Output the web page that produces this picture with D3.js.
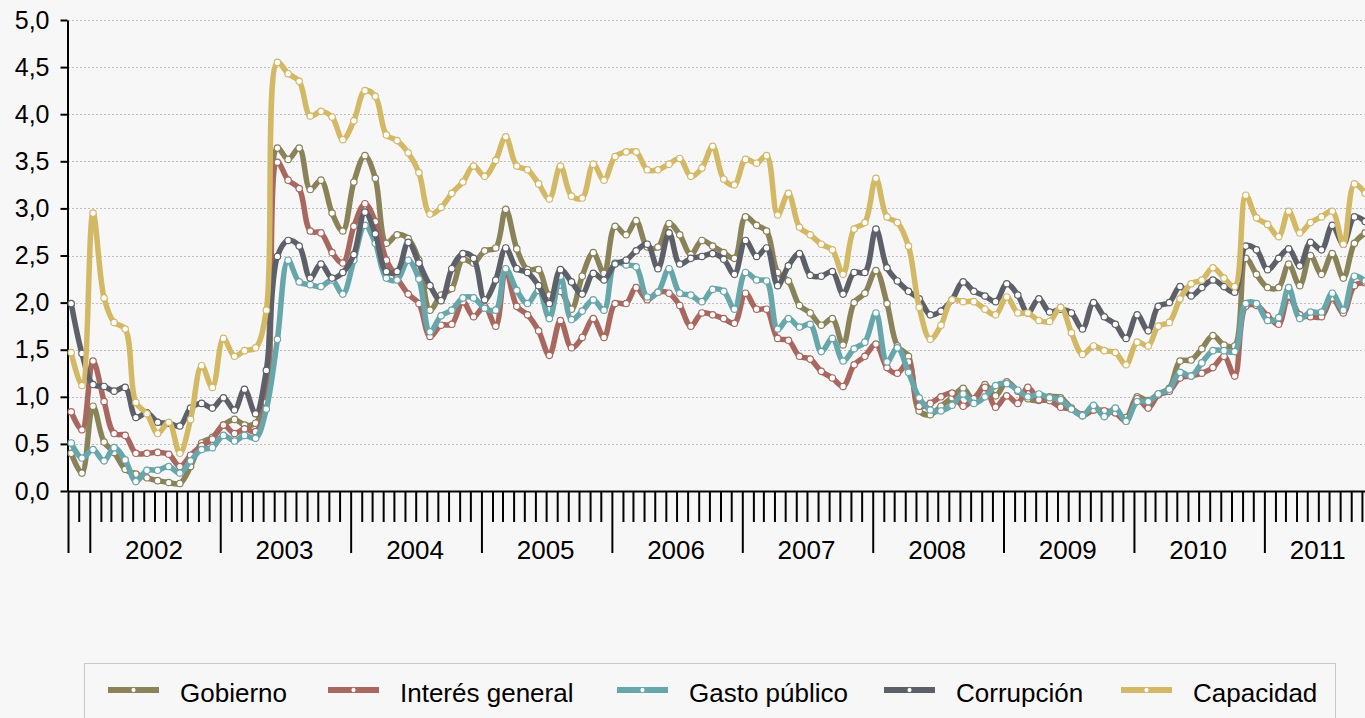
<!DOCTYPE html>
<html>
<head>
<meta charset="utf-8">
<script src="https://cdn.jsdelivr.net/npm/d3@7"></script>
<style>
body { margin: 0; background: #f7f7f7; }
svg { display: block; font-family: "Liberation Sans", Arial, sans-serif; }
</style>
</head>
<body>
<div id="chart"></div>
<script>
// monthly series, first value = Nov 2001, last = Oct 2011
var firstMonth = "2001-11";
var yearLabels = ["2002", "2003", "2004", "2005", "2006", "2007", "2008", "2009", "2010", "2011"];
var yTicks = [0, 0.5, 1, 1.5, 2, 2.5, 3, 3.5, 4, 4.5, 5];
var seriesNames = ["Gobierno", "Interés general", "Gasto público", "Corrupción", "Capacidad"];
var seriesColors = ["#8a8259", "#a8685f", "#67a6aa", "#5d6068", "#d3b866"];

var gobierno = [0.40, 0.19, 0.90, 0.52, 0.41, 0.23, 0.18, 0.14, 0.11, 0.09, 0.08, 0.26, 0.51, 0.57,
    0.70, 0.76, 0.70, 0.72, 1.11, 3.64, 3.52, 3.64, 3.20, 3.30, 2.95, 2.76,
    3.28, 3.56, 3.32, 2.63, 2.72, 2.68, 2.45, 1.92, 2.08, 2.15, 2.46, 2.42,
    2.55, 2.58, 2.99, 2.57, 2.35, 2.35, 2.08, 2.12, 1.93, 2.28, 2.53, 2.31,
    2.81, 2.72, 2.87, 2.59, 2.59, 2.84, 2.72, 2.51, 2.66, 2.60, 2.53, 2.47,
    2.91, 2.82, 2.76, 2.32, 2.23, 1.97, 1.89, 1.76, 1.83, 1.55, 2.00, 2.10,
    2.34, 1.99, 1.54, 1.43, 0.85, 0.81, 0.90, 0.99, 1.09, 0.96, 1.13, 1.01,
    1.16, 1.06, 0.98, 0.96, 1.00, 0.99, 0.88, 0.80, 0.86, 0.85, 0.83, 0.78,
    1.00, 0.96, 1.03, 1.09, 1.38, 1.39, 1.51, 1.65, 1.55, 1.54, 2.47, 2.30,
    2.16, 2.16, 2.41, 2.18, 2.50, 2.30, 2.52, 2.26, 2.63, 2.74];

var interesGeneral = [0.84, 0.65, 1.38, 0.95, 0.61, 0.59, 0.40, 0.40, 0.41, 0.39, 0.26, 0.38, 0.48, 0.55,
    0.70, 0.61, 0.66, 0.63, 0.94, 3.49, 3.30, 3.21, 2.76, 2.74, 2.53, 2.42,
    2.81, 3.05, 2.86, 2.45, 2.26, 2.09, 1.99, 1.64, 1.76, 1.77, 2.01, 1.85,
    1.96, 1.75, 2.35, 1.96, 1.87, 1.70, 1.44, 1.81, 1.52, 1.63, 1.83, 1.63,
    1.99, 1.99, 2.16, 2.03, 2.11, 2.10, 1.97, 1.75, 1.89, 1.87, 1.83, 1.78,
    2.10, 1.93, 1.93, 1.62, 1.60, 1.43, 1.40, 1.27, 1.20, 1.11, 1.34, 1.43,
    1.56, 1.31, 1.25, 1.37, 0.90, 0.93, 1.00, 1.04, 0.90, 0.98, 1.10, 0.89,
    1.01, 0.93, 1.10, 0.97, 0.96, 0.89, 0.87, 0.81, 0.86, 0.85, 0.83, 0.74,
    0.98, 0.88, 1.02, 1.06, 1.20, 1.22, 1.25, 1.31, 1.43, 1.22, 1.96, 1.97,
    1.86, 1.77, 2.07, 1.87, 1.85, 1.85, 2.05, 1.89, 2.18, 2.21];

var gastoPublico = [0.51, 0.35, 0.44, 0.32, 0.46, 0.33, 0.10, 0.22, 0.22, 0.26, 0.19, 0.32, 0.44, 0.46,
    0.59, 0.53, 0.59, 0.56, 0.87, 1.61, 2.45, 2.22, 2.19, 2.17, 2.24, 2.09,
    2.45, 2.82, 2.63, 2.26, 2.24, 2.45, 2.25, 1.69, 1.86, 1.92, 2.05, 2.05,
    1.94, 1.92, 2.36, 2.13, 1.99, 2.13, 1.83, 2.28, 1.82, 1.91, 2.03, 1.92,
    2.42, 2.40, 2.38, 2.06, 2.11, 2.36, 2.10, 2.08, 2.01, 2.14, 2.12, 1.93,
    2.32, 2.24, 2.23, 1.72, 1.83, 1.74, 1.77, 1.48, 1.62, 1.38, 1.51, 1.58,
    1.89, 1.37, 1.52, 1.26, 0.99, 0.86, 0.85, 0.91, 1.03, 0.93, 1.00, 1.12,
    1.14, 1.07, 1.00, 1.03, 0.99, 0.97, 0.87, 0.80, 0.91, 0.79, 0.88, 0.74,
    0.95, 0.95, 1.03, 1.08, 1.26, 1.22, 1.36, 1.49, 1.49, 1.48, 1.99, 1.99,
    1.81, 1.84, 2.16, 1.83, 1.90, 1.90, 2.10, 1.92, 2.28, 2.23];

var corrupcion = [1.99, 1.46, 1.13, 1.11, 1.06, 1.10, 0.78, 0.83, 0.73, 0.72, 0.69, 0.88, 0.93, 0.88,
    0.99, 0.86, 1.08, 0.82, 1.28, 2.49, 2.66, 2.60, 2.26, 2.41, 2.26, 2.32,
    2.51, 2.96, 2.73, 2.33, 2.33, 2.64, 2.42, 2.18, 2.02, 2.36, 2.52, 2.47,
    2.03, 2.24, 2.58, 2.36, 2.32, 2.18, 1.99, 2.35, 2.22, 2.09, 2.31, 2.24,
    2.41, 2.45, 2.55, 2.62, 2.36, 2.74, 2.41, 2.47, 2.49, 2.52, 2.46, 2.30,
    2.66, 2.49, 2.58, 2.18, 2.39, 2.52, 2.29, 2.28, 2.33, 2.09, 2.32, 2.32,
    2.78, 2.37, 2.23, 2.12, 2.04, 1.87, 1.91, 2.03, 2.22, 2.12, 2.07, 2.01,
    2.20, 2.08, 1.89, 2.04, 1.90, 1.93, 1.89, 1.72, 2.00, 1.85, 1.77, 1.62,
    1.87, 1.70, 1.96, 2.00, 2.17, 2.07, 2.16, 2.24, 2.17, 2.11, 2.60, 2.56,
    2.35, 2.47, 2.57, 2.39, 2.64, 2.56, 2.82, 2.62, 2.91, 2.86];

var capacidad = [1.47, 1.12, 2.95, 2.05, 1.79, 1.72, 0.94, 0.82, 0.61, 0.73, 0.40, 0.76, 1.33, 1.10,
    1.62, 1.43, 1.49, 1.52, 1.92, 4.55, 4.43, 4.35, 3.98, 4.03, 3.97, 3.73,
    3.93, 4.25, 4.19, 3.78, 3.72, 3.59, 3.38, 2.94, 3.01, 3.16, 3.28, 3.45,
    3.34, 3.51, 3.76, 3.45, 3.41, 3.26, 3.10, 3.45, 3.13, 3.11, 3.47, 3.30,
    3.55, 3.60, 3.60, 3.41, 3.41, 3.47, 3.53, 3.34, 3.43, 3.66, 3.31, 3.25,
    3.52, 3.48, 3.56, 2.93, 3.16, 2.80, 2.72, 2.62, 2.56, 2.30, 2.78, 2.85,
    3.32, 2.91, 2.85, 2.60, 1.95, 1.61, 1.76, 2.03, 2.01, 2.01, 1.93, 1.87,
    2.06, 1.89, 1.89, 1.81, 1.80, 1.95, 1.68, 1.45, 1.54, 1.49, 1.47, 1.34,
    1.58, 1.54, 1.75, 1.79, 2.04, 2.20, 2.24, 2.37, 2.26, 2.17, 3.14, 2.90,
    2.83, 2.70, 2.97, 2.74, 2.85, 2.91, 2.97, 2.62, 3.26, 3.16];

var seriesValues = [gobierno, interesGeneral, gastoPublico, corrupcion, capacidad];

var svgWidth = 1365;
var svgHeight = 718;
var plotLeft = 68, plotRight = 1373, plotTop = 20, plotBottom = 491;

var svg = d3.select("#chart")
    .append("svg")
    .attr("width", svgWidth)
    .attr("height", svgHeight);

var start = d3.timeParse("%Y-%m")(firstMonth);
var end = d3.timeMonth.offset(start, gobierno.length);
var months = d3.timeMonth.range(start, end);

var xScale = d3.scaleTime().domain([start, end]).range([plotLeft, plotRight]);
var yScale = d3.scaleLinear().domain([0, 5]).range([plotBottom, plotTop]);

var locale = d3.formatLocale({decimal: ",", thousands: ".", grouping: [3], currency: ["", " €"]});
var fmt = locale.format(".1f");

// gridlines
svg.append("g")
    .selectAll("line")
    .data(yTicks.filter(d => d > 0))
    .enter()
    .append("line")
    .attr("x1", plotLeft)
    .attr("x2", svgWidth)
    .attr("y1", d => Math.round(yScale(d)) + 0.5)
    .attr("y2", d => Math.round(yScale(d)) + 0.5)
    .attr("stroke", "#bdbdbd")
    .attr("stroke-width", 1)
    .attr("stroke-dasharray", "2,2");

// x axis: month ticks + long ticks at start and each year
var yearStarts = yearLabels.map(y => new Date(+y, 0, 1));
var majorTicks = [start].concat(yearStarts);
var minorTicks = months.filter(m => m.getMonth() !== 0 && +m !== +start);

var xMinor = svg.append("g")
    .attr("transform", `translate(0,${plotBottom})`)
    .call(d3.axisBottom(xScale).tickValues(minorTicks).tickSize(31).tickSizeOuter(0).tickFormat(""));
var xMajor = svg.append("g")
    .attr("transform", `translate(0,${plotBottom})`)
    .call(d3.axisBottom(xScale).tickValues(majorTicks).tickSize(62).tickSizeOuter(0).tickFormat(""));
xMajor.select(".domain").remove();
svg.selectAll(".tick line").attr("stroke", "#000").attr("stroke-width", 2);
xMinor.select(".domain").attr("stroke", "#000").attr("stroke-width", 2);

// year labels centred in each year's span
svg.append("g")
    .selectAll("text")
    .data(yearLabels)
    .enter()
    .append("text")
    .attr("x", function(d) {
        var a = d3.max([start, new Date(+d, 0, 1)]);
        var b = d3.min([end, new Date(+d + 1, 0, 1)]);
        return (xScale(a) + xScale(b)) / 2 - 1;
    })
    .attr("y", 559)
    .attr("text-anchor", "middle")
    .style("font-size", "26px")
    .style("fill", "#000")
    .text(d => d);

// y axis
var yAxis = svg.append("g")
    .attr("transform", `translate(${plotLeft - 0.5},0)`)
    .call(d3.axisLeft(yScale).tickValues(yTicks).tickSize(7).tickSizeOuter(0).tickPadding(11).tickFormat(fmt));
yAxis.select(".domain").attr("stroke", "#000").attr("stroke-width", 2);
yAxis.selectAll(".tick line").attr("stroke", "#000").attr("stroke-width", 2);
yAxis.selectAll("text")
    .style("font-size", "25px")
    .style("font-family", "'Liberation Sans', Arial, sans-serif")
    .style("fill", "#000");

// series
var line = d3.line()
    .x(d => xScale(d.date))
    .y(d => yScale(d.value))
    .curve(d3.curveCatmullRom.alpha(0.5));

seriesValues.forEach(function(values, k) {
    var data = values.map((v, i) => ({date: d3.timeDay.offset(months[i], 9), value: v}));
    var g = svg.append("g");
    g.append("path")
        .datum(data)
        .attr("d", line)
        .attr("fill", "none")
        .attr("stroke", seriesColors[k])
        .attr("stroke-width", 5.5)
        .attr("stroke-linejoin", "round");
    g.selectAll("circle")
        .data(data)
        .enter()
        .append("circle")
        .attr("cx", d => xScale(d.date))
        .attr("cy", d => yScale(d.value))
        .attr("r", 3.2)
        .attr("fill", "#fff")
        .attr("stroke", seriesColors[k])
        .attr("stroke-width", 1.2);
});

// legend
var legend = svg.append("g");
legend.append("rect")
    .attr("x", 84.5)
    .attr("y", 663.5)
    .attr("width", 1251)
    .attr("height", 80)
    .attr("fill", "none")
    .attr("stroke", "#c8c8c8");

var legendX = [108, 328, 617, 884, 1121];
seriesNames.forEach(function(name, k) {
    var item = legend.append("g").attr("transform", `translate(${legendX[k]},690)`);
    item.append("line")
        .attr("x1", 0).attr("x2", 51)
        .attr("stroke", seriesColors[k])
        .attr("stroke-width", 6);
    item.append("circle")
        .attr("cx", 25.5).attr("r", 2.6)
        .attr("fill", "#fff")
        .attr("stroke", seriesColors[k])
        .attr("stroke-width", 1);
    item.append("text")
        .attr("x", 72)
        .attr("y", 12)
        .style("font-size", "26px")
        .style("fill", "#000")
        .text(name);
});
</script>
</body>
</html>
